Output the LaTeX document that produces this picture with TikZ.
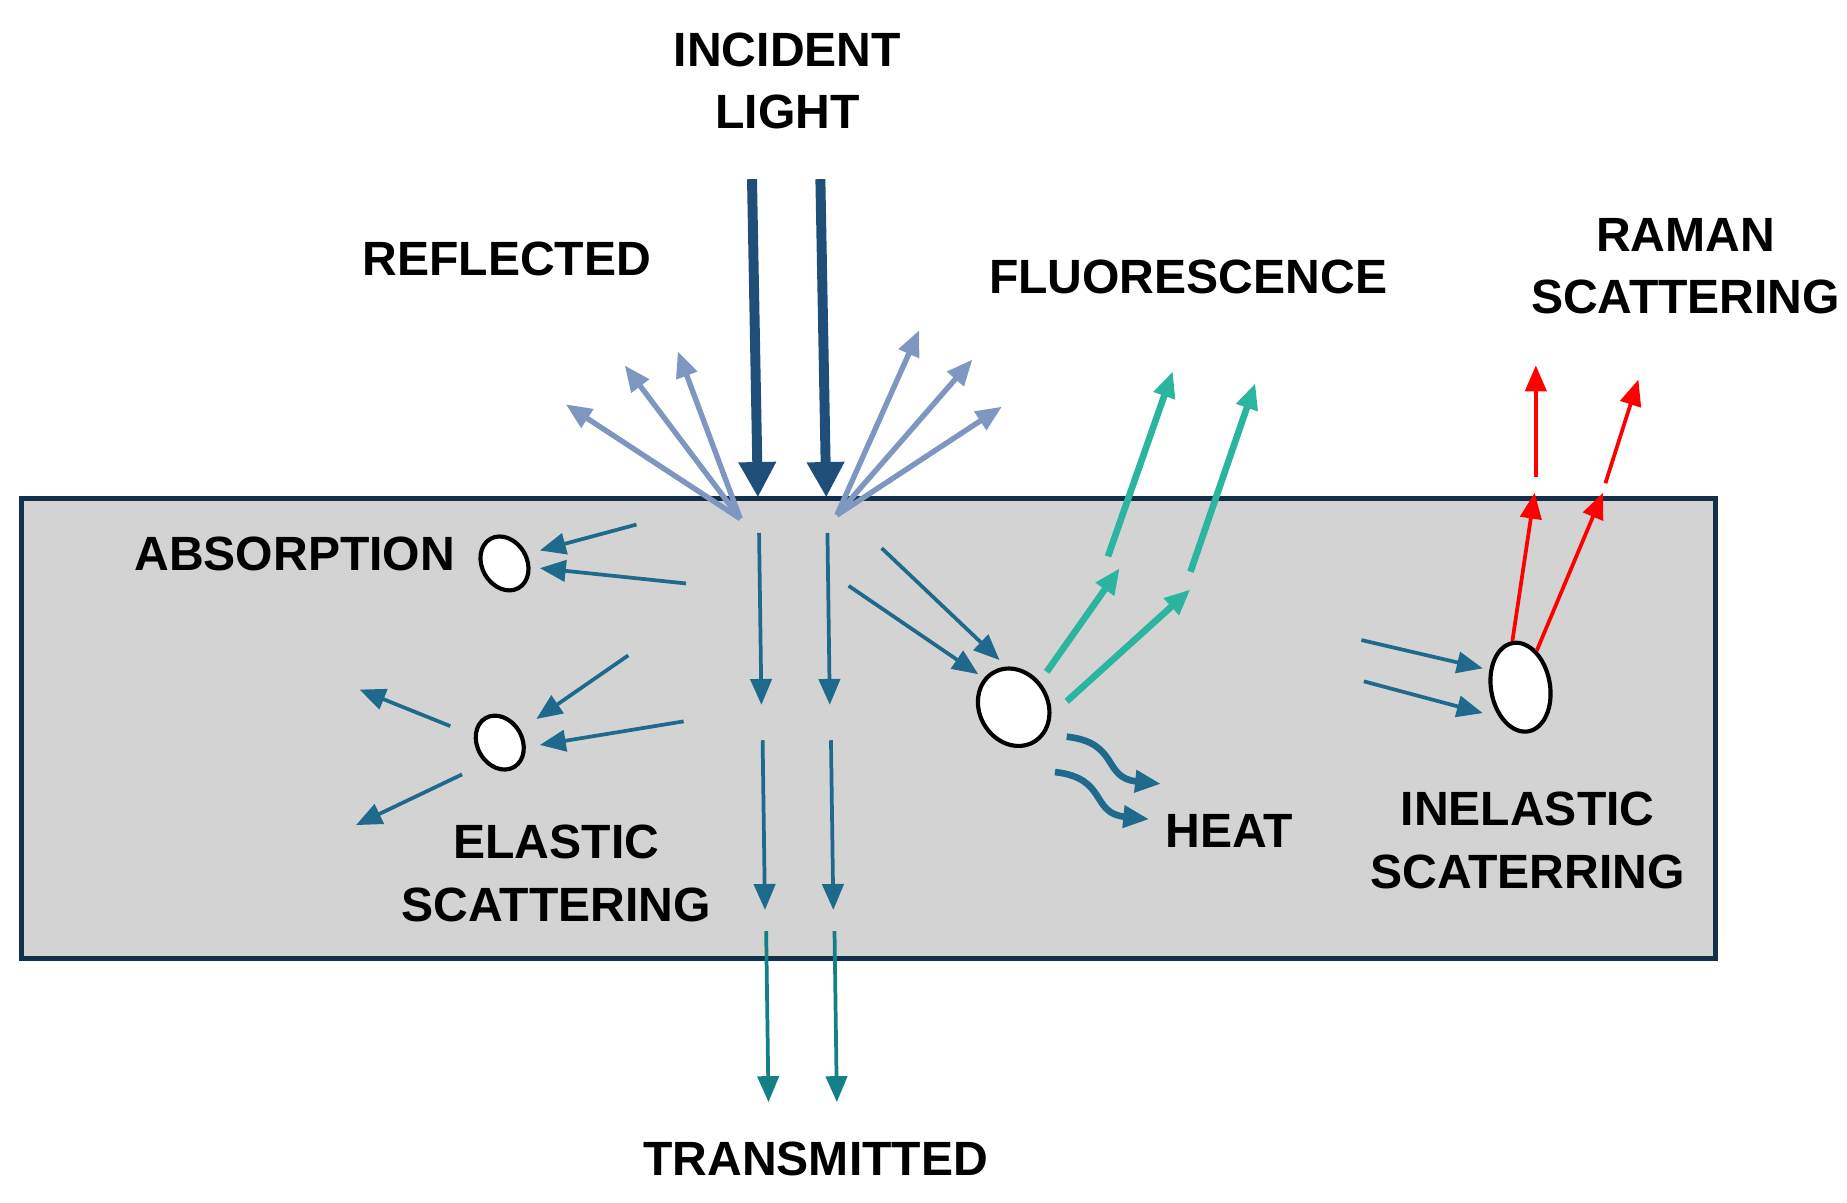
\documentclass[tikz,border=0pt]{standalone}
\usepackage{fontspec}
\setmainfont{Liberation Sans}
\usetikzlibrary{arrows.meta,shapes.geometric,positioning,decorations.pathmorphing}
\definecolor{navy}{HTML}{1F4E79}
\definecolor{refl}{HTML}{7F96C0}
\definecolor{inner}{HTML}{1F6A8C}
\definecolor{trans}{HTML}{138085}
\definecolor{fluo}{HTML}{2AB5A0}
\definecolor{slab}{HTML}{D3D3D3}
\tikzset{lbl/.style={font=\fontsize{11.6}{15}\selectfont\bfseries,align=center},
part/.style={draw=black,fill=white,ellipse,line width=1pt,inner sep=0pt}}
\begin{document}
\begin{tikzpicture}[x=0.01cm,y=-0.01cm,
  thin/.style={line width=0.9pt,-{Triangle[length=0.22cm,width=0.18cm]}},
  fat/.style={line width=2.4pt,-{Triangle[length=0.3cm,width=0.3cm]}}]
\useasboundingbox (0,0) rectangle (1567,1020);
% sample slab
\draw[fill=slab,draw=navy!60!black,line width=1.2pt] (18,423) rectangle (1455,813);
% labels
\node[lbl] (inc) at (668,69) {INCIDENT\\LIGHT};
\node[lbl] (refl) at (430,220) {REFLECTED};
\node[lbl] (fluo) at (1008,235) {FLUORESCENCE};
\node[lbl] (raman) at (1430,226) {RAMAN\\SCATTERING};
\node[lbl] (absl) at (250,470) {ABSORPTION};
\node[lbl] (elas) at (472,741) {ELASTIC\\SCATTERING};
\node[lbl] (heat) at (1043,705) {HEAT};
\node[lbl] (inel) at (1296,713) {INELASTIC\\SCATERRING};
\node[lbl] (trl) at (692,983) {TRANSMITTED};
% particles
\node[part,minimum width=0.38cm,minimum height=0.48cm,rotate=30] (abs) at (428,478) {};
\node[part,minimum width=0.38cm,minimum height=0.48cm,rotate=30] (ela) at (424,630) {};
\node[part,minimum width=0.58cm,minimum height=0.68cm,rotate=30] (flu) at (860,600) {};
\node[part,minimum width=0.5cm,minimum height=0.76cm,rotate=10] (ine) at (1290,583) {};
% incident beams
\coordinate (i1) at (638,152); \coordinate (s1) at (643,422);
\coordinate (i2) at (696,152); \coordinate (s2) at (701,422);
\draw[fat,navy] (i1) -- (s1);
\draw[fat,navy] (i2) -- (s2);
% reflected
\coordinate (rl) at (628,440); \coordinate (rr) at (710,437);
\foreach \p in {(480,343),(530,310),(575,298)}
  \draw[thin,refl,line width=1.3pt] (rl) -- \p;
\foreach \p in {(780,280),(825,305),(850,345)}
  \draw[thin,refl,line width=1.3pt] (rr) -- \p;
% absorption
\draw[thin,inner] (540,445) -- (458,467);
\draw[thin,inner] (582,495) -- (458,482);
% transmitted
\foreach \x in {0,58}{
  \draw[thin,inner] (644+\x,452) -- (646+\x,598);
  \draw[thin,inner] (647+\x,628) -- (649+\x,772);
  \draw[thin,trans] (650+\x,790) -- (652+\x,935);
}
% elastic scattering
\draw[thin,inner] (533,556) -- (455,610);
\draw[thin,inner] (580,612) -- (458,632);
\draw[thin,inner] (382,616) -- (305,585);
\draw[thin,inner] (392,657) -- (302,700);
% fluorescence
\draw[thin,inner] (748,465) -- (848,560);
\draw[thin,inner] (720,497) -- (830,572);
\draw[thin,fluo,line width=1.6pt] (888,570) -- (950,482);
\draw[thin,fluo,line width=1.6pt] (940,472) -- (995,315);
\draw[thin,fluo,line width=1.6pt] (905,595) -- (1010,500);
\draw[thin,fluo,line width=1.6pt] (1010,485) -- (1065,325);
% heat
\draw[thin,inner,line width=1.6pt] (905,625) .. controls (950,630) and (935,660) .. (985,665);
\draw[thin,inner,line width=1.6pt] (895,655) .. controls (940,660) and (925,690) .. (975,695);
% inelastic / raman
\draw[thin,inner] (1155,543) -- (1258,567);
\draw[thin,inner] (1157,578) -- (1258,605);
\draw[thin,red] (ine.north) -- (1302,418);
\draw[thin,red] (1303,405) -- (1303,310);
\draw[thin,red] (ine.north east) -- (1360,418);
\draw[thin,red] (1362,410) -- (1390,322);
\end{tikzpicture}
\end{document}
